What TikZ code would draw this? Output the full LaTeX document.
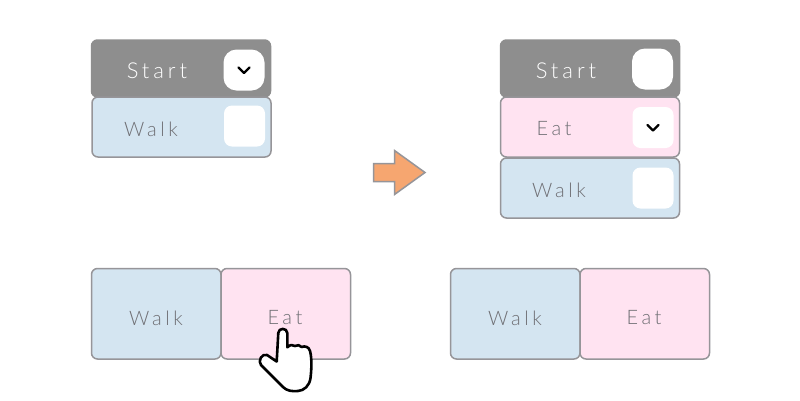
\documentclass[tikz,border=0pt]{standalone}
\usepackage{fontspec}
\setmainfont{Lato Light}[LetterSpace=18]
\definecolor{edgegrey}{HTML}{969599}
\definecolor{startgrey}{HTML}{8E8E8E}
\definecolor{blueish}{HTML}{D4E5F1}
\definecolor{pinkish}{HTML}{FFE3F1}
\definecolor{arrowfill}{HTML}{F6A670}
\definecolor{labelgrey}{HTML}{6F6F74}
\tikzset{
  bx/.style={draw=edgegrey,line width=1.5bp,rounded corners=6bp,inner sep=0pt,outer sep=0pt,anchor=north west},
  bluebox/.style={bx,fill=blueish},
  pinkbox/.style={bx,fill=pinkish},
  startbox/.style={bx,draw=startgrey,fill=startgrey},
  lbl/.style={inner sep=0pt,text=labelgrey,font=\fontsize{20}{24}\selectfont},
  startlbl/.style={inner sep=0pt,text=white,font=\fontsize{22}{26}\selectfont},
  tick/.style={draw=none,fill=white,minimum width=41bp,minimum height=41bp,rounded corners=8bp,inner sep=0pt},
  roundtick/.style={tick,rounded corners=13bp},
  chev/.style={draw=black,line width=2.2bp,line cap=round,line join=round},
}
\begin{document}
\begin{tikzpicture}[x=1bp,y=-1bp]
\useasboundingbox[fill=white] (0,0) rectangle (800,400);
% left column
\node[startbox,minimum width=179bp,minimum height=57bp] (s1) at (91.5,40) {};
\node[bluebox,minimum width=179bp,minimum height=60bp] (w1) at (92,97) {};
\node[startlbl] (s1l) at (157,71) {Start};
\node[lbl] (w1l) at (151,129) {Walk};
\node[roundtick] (s1t) at (244,70) {};
\node[tick] (w1t) at (244.5,126) {};
\draw[chev] ([shift={(-5.5,-2.5)}]s1t.center) -- ([shift={(0,3)}]s1t.center) -- ([shift={(5.5,-2.5)}]s1t.center);
% right column
\node[startbox,minimum width=179bp,minimum height=57bp] (s2) at (500.5,40) {};
\node[pinkbox,minimum width=179bp,minimum height=60bp] (e2) at (500.5,97) {};
\node[bluebox,minimum width=179bp,minimum height=60bp] (w2) at (500.5,158) {};
\node[startlbl] (s2l) at (566,71) {Start};
\node[lbl] (e2l) at (554,129) {Eat};
\node[lbl] (w2l) at (559,190) {Walk};
\node[roundtick] (s2t) at (652.5,69) {};
\node[tick] (e2t) at (653,127.5) {};
\node[tick] (w2t) at (653,188) {};
\draw[chev] ([shift={(-5.5,-2.5)}]e2t.center) -- ([shift={(0,3)}]e2t.center) -- ([shift={(5.5,-2.5)}]e2t.center);
% arrow
\draw[edgegrey,line width=1.5bp,fill=arrowfill,line join=miter]
  (373.5,163.5) -- (394.5,163.5) -- (394.5,150.5) -- (425,172.5) -- (394.5,194.5) -- (394.5,181.5) -- (373.5,181.5) -- cycle;
% bottom pairs
\node[bluebox,minimum width=129.5bp,minimum height=90.5bp] (w3) at (91.5,268.5) {};
\node[pinkbox,minimum width=129.5bp,minimum height=90.5bp] (e3) at (221,268.5) {};
\node[bluebox,minimum width=129.5bp,minimum height=90.5bp] (w4) at (450.5,268.5) {};
\node[pinkbox,minimum width=129.5bp,minimum height=90.5bp] (e4) at (580,268.5) {};
\node[lbl] (w3l) at (156,318) {Walk};
\node[lbl] (e3l) at (285,318) {Eat};
\node[lbl] (w4l) at (515,318) {Walk};
\node[lbl] (e4l) at (644,318) {Eat};
% hand
\draw[black,fill=white,line width=2.6bp,line join=round,line cap=round]
  (276.7,361.5) -- (278.3,333)
  .. controls (278.5,327.5) and (287,327.5) .. (287.3,333)
  -- (287.3,347.3)
  .. controls (290,344.5) and (293,344.5) .. (295,346)
  .. controls (297,344.5) and (300,345) .. (301.7,347)
  .. controls (305,345.5) and (309,347) .. (310,351)
  .. controls (312,358) and (311.5,370) .. (310.5,378)
  .. controls (309.5,386) and (304,390.5) .. (298,391)
  .. controls (292,391.5) and (287,391) .. (283,387)
  -- (261,365)
  .. controls (257.5,361) and (262,353) .. (267,355)
  -- (276.7,361.5);
\end{tikzpicture}
\end{document}
